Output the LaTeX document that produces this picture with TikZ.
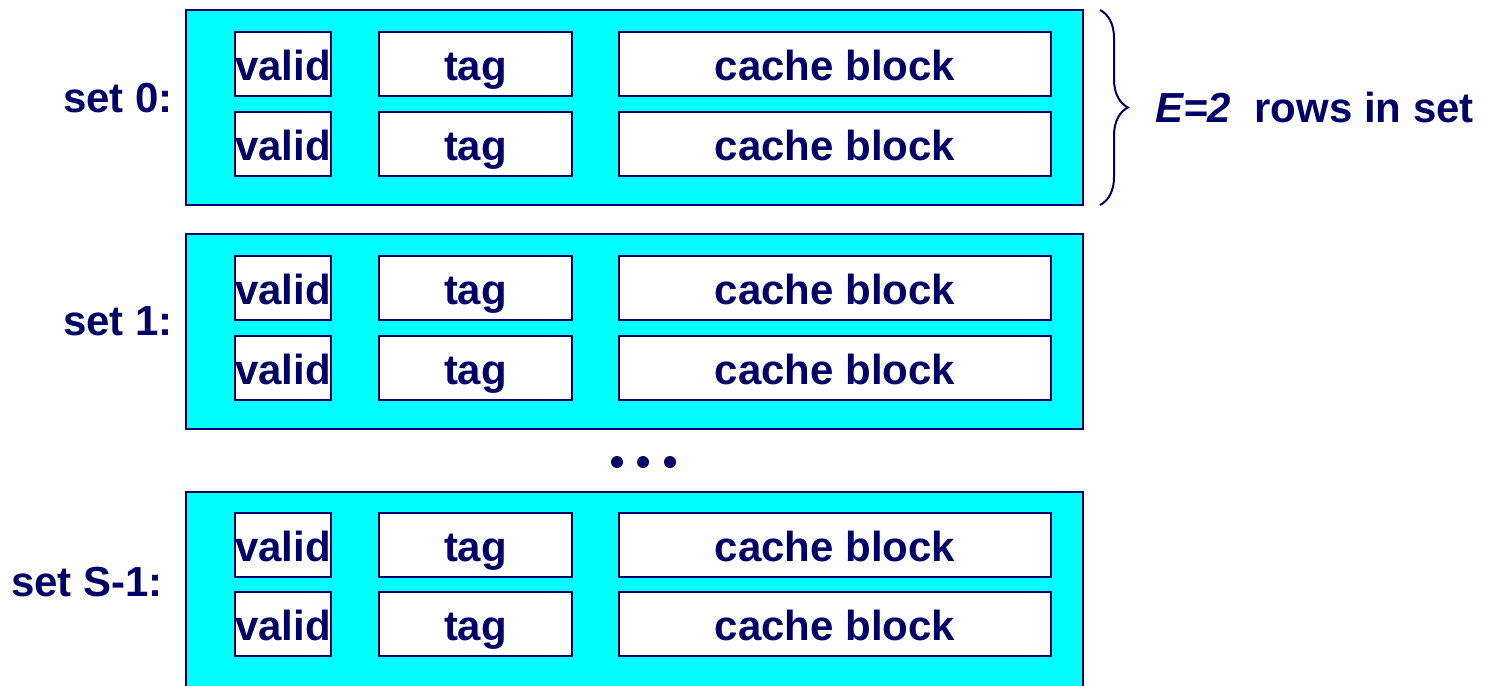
\documentclass[tikz,border=0pt]{standalone}
\usepackage{fontspec}
\setmainfont{Liberation Sans}
\usetikzlibrary{decorations.pathreplacing}
\definecolor{navy}{HTML}{000066}
\definecolor{cyanfill}{HTML}{00FFFF}
\begin{document}
\begin{tikzpicture}[x=1pt,y=-1pt,
  every node/.style={text=navy,font=\fontsize{42}{50}\selectfont\bfseries},
  setbox/.style={draw=navy,fill=cyanfill,line width=2.5pt,minimum width=897pt,minimum height=195pt,inner sep=0pt},
  cell/.style={draw=navy,fill=white,line width=2pt,minimum height=64pt,inner sep=0pt,text height=32pt,text depth=0pt},
  validcell/.style={cell,minimum width=96pt},
  tagcell/.style={cell,minimum width=193pt},
  blockcell/.style={cell,minimum width=432pt},
  setlabel/.style={anchor=base east,inner sep=0pt},
  dot/.style={circle,fill=navy,minimum size=12pt,inner sep=0pt}
]
\useasboundingbox (0,0) rectangle (1495,685);
% sets
\node[setbox] (s0) at (634.5,107.5) {};
\node[setbox] (s1) at (634.5,331.5) {};
\node[setbox,minimum height=198pt] (sS) at (634.5,591) {};
% rows
\foreach \name/\y in {a/64,b/144,c/288,d/368,e/545,f/624}{
  \node[validcell] (v\name) at (283,\y) {valid};
  \node[tagcell] (t\name) at (475.5,\y) {tag};
  \node[blockcell] (c\name) at (835,\y) {cache block};
}
% labels
\node[setlabel] (l0) at (173,112) {set 0:};
\node[setlabel] (l1) at (173,335) {set 1:};
\node[setlabel] (lS) at (163,596) {set S-1:};
% dots
\node[dot] (d1) at (617,462) {};
\node[dot] (d2) at (643,462) {};
\node[dot] (d3) at (670,462) {};
% brace
\coordinate (bt) at (1100,10);
\coordinate (bb) at (1100,205);
\draw[navy,line width=2pt,decorate,decoration={brace,amplitude=28pt,aspect=0.5}] (bt) -- (bb);
\node[anchor=base west,inner sep=0pt] (E) at (1155,122) {\itshape E=2\upshape\ \ rows in set};
\end{tikzpicture}
\end{document}
